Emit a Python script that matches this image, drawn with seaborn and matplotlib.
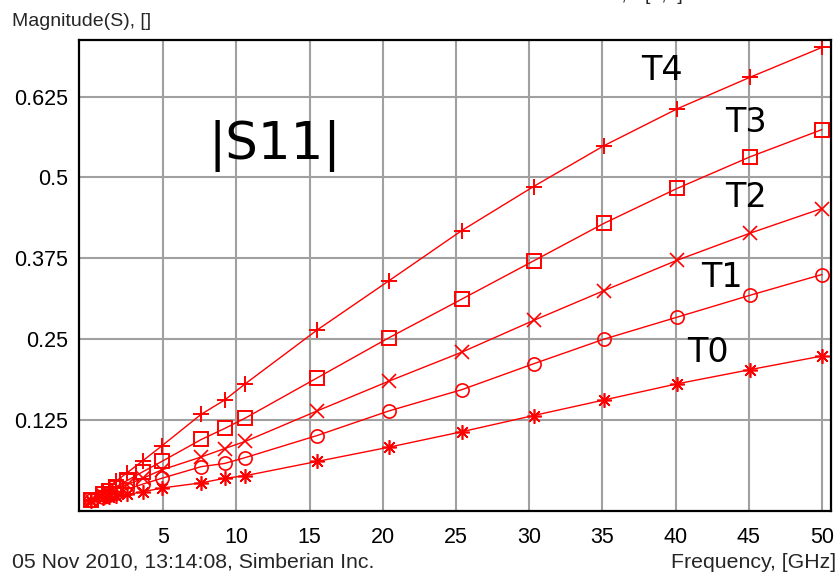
import numpy as np
import pandas as pd
import matplotlib
matplotlib.use("Agg")
import matplotlib.pyplot as plt
import seaborn as sns

# Frequency sweep points, GHz
freq = [0.05, 0.9, 1.3, 1.8, 2.5, 3.6, 4.9, 7.6, 9.2, 10.6, 15.5, 20.4,
        25.4, 30.3, 35.1, 40.1, 45.1, 50.0]

# |S11| magnitude for each trace
t4 = [0.001, 0.016, 0.022, 0.031, 0.043, 0.062, 0.085, 0.134, 0.156, 0.181,
      0.264, 0.340, 0.418, 0.486, 0.549, 0.606, 0.655, 0.701]
t3 = [0.001, 0.011, 0.016, 0.022, 0.031, 0.045, 0.061, 0.095, 0.112, 0.128,
      0.190, 0.252, 0.312, 0.371, 0.429, 0.483, 0.532, 0.574]
t2 = [0.001, 0.009, 0.013, 0.018, 0.025, 0.035, 0.048, 0.068, 0.081, 0.092,
      0.139, 0.185, 0.230, 0.279, 0.325, 0.372, 0.414, 0.452]
t1 = [0.001, 0.0065, 0.009, 0.013, 0.018, 0.026, 0.035, 0.053, 0.058, 0.067,
      0.101, 0.139, 0.172, 0.212, 0.250, 0.284, 0.318, 0.350]
t0 = [0.0005, 0.004, 0.0055, 0.0075, 0.010, 0.014, 0.020, 0.028, 0.035, 0.039,
      0.061, 0.083, 0.107, 0.132, 0.156, 0.181, 0.203, 0.224]

series_names = ["T4", "T3", "T2", "T1", "T0"]
series_vals = [t4, t3, t2, t1, t0]

# Trace label anchors (frequency, magnitude)
label_x = [39.1, 44.8, 44.8, 43.2, 42.2]
label_y = [0.665, 0.585, 0.469, 0.346, 0.230]

x_ticks = [5, 10, 15, 20, 25, 30, 35, 40, 45, 50]
y_ticks = [0.125, 0.25, 0.375, 0.5, 0.625]
y_tick_labels = ["0.125", "0.25", "0.375", "0.5", "0.625"]

df = pd.concat(
    [pd.DataFrame({"freq": freq, "mag": v, "trace": n})
     for n, v in zip(series_names, series_vals)],
    ignore_index=True,
)

sns.set_style("white")
plt.rcParams["font.family"] = ["Liberation Sans", "DejaVu Sans"]

fig = plt.figure(figsize=(8.4, 5.74), dpi=100)
ax = fig.add_axes([0.0946, 0.1098, 0.8944, 0.8200])

asterisk = (8, 2, 0)
marker_style = {
    "T4": dict(marker="+", ms=12, mew=1.4, mfc="none"),
    "T3": dict(marker="s", ms=9.5, mew=1.4, mfc="none"),
    "T2": dict(marker="x", ms=9.5, mew=1.2, mfc="none"),
    "T1": dict(marker="o", ms=9.5, mew=1.2, mfc="none"),
    "T0": dict(marker=asterisk, ms=10.5, mew=1.2, mfc="none"),
}

red = "#ff0000"
for name in series_names:
    sub = df[df["trace"] == name]
    sns.lineplot(data=sub, x="freq", y="mag", ax=ax, color=red, lw=1.0,
                 mec=red, estimator=None, sort=False, legend=False,
                 **marker_style[name])

ax.set_xlim(-0.72, 50.6)
ax.set_ylim(-0.0155, 0.712)
ax.set_xticks(x_ticks)
ax.set_xticklabels([str(t) for t in x_ticks])
ax.set_yticks(y_ticks)
ax.set_yticklabels(y_tick_labels)
ax.set_xlabel("")
ax.set_ylabel("")

ax.grid(True, color="#a0a0a0", lw=1.5)
ax.set_axisbelow(True)
for s in ax.spines.values():
    s.set_color("black")
    s.set_linewidth(1.6)
ax.tick_params(axis="both", direction="inout", length=9, width=1.4,
               colors="black", labelsize=15.5)
ax.tick_params(axis="x", pad=7)
ax.tick_params(axis="y", pad=4)

for name, lx, ly in zip(series_names, label_x, label_y):
    ax.text(lx, ly, name, fontsize=24, ha="center", va="center",
            family="DejaVu Sans", color="black")
ax.text(12.6, 0.549, "|S11|", fontsize=37, ha="center", va="center",
        family="DejaVu Sans", color="black")

fig.text(12 / 840, 1 - 21 / 574, "Magnitude(S), []", fontsize=14,
         ha="left", va="center")
fig.text(12 / 840, 1 - 562 / 574, "05 Nov 2010, 13:14:08, Simberian Inc.",
         fontsize=15.3, ha="left", va="center")
fig.text(836 / 840, 1 - 562 / 574, "Frequency, [GHz]", fontsize=15.3,
         ha="right", va="center")
fig.text(537 / 840, 1 + 4 / 574, "Lossless Sim. Workstation, S[1,1]",
         fontsize=14, ha="center", va="center")

fig.savefig("out.png", dpi=100, facecolor="white")
